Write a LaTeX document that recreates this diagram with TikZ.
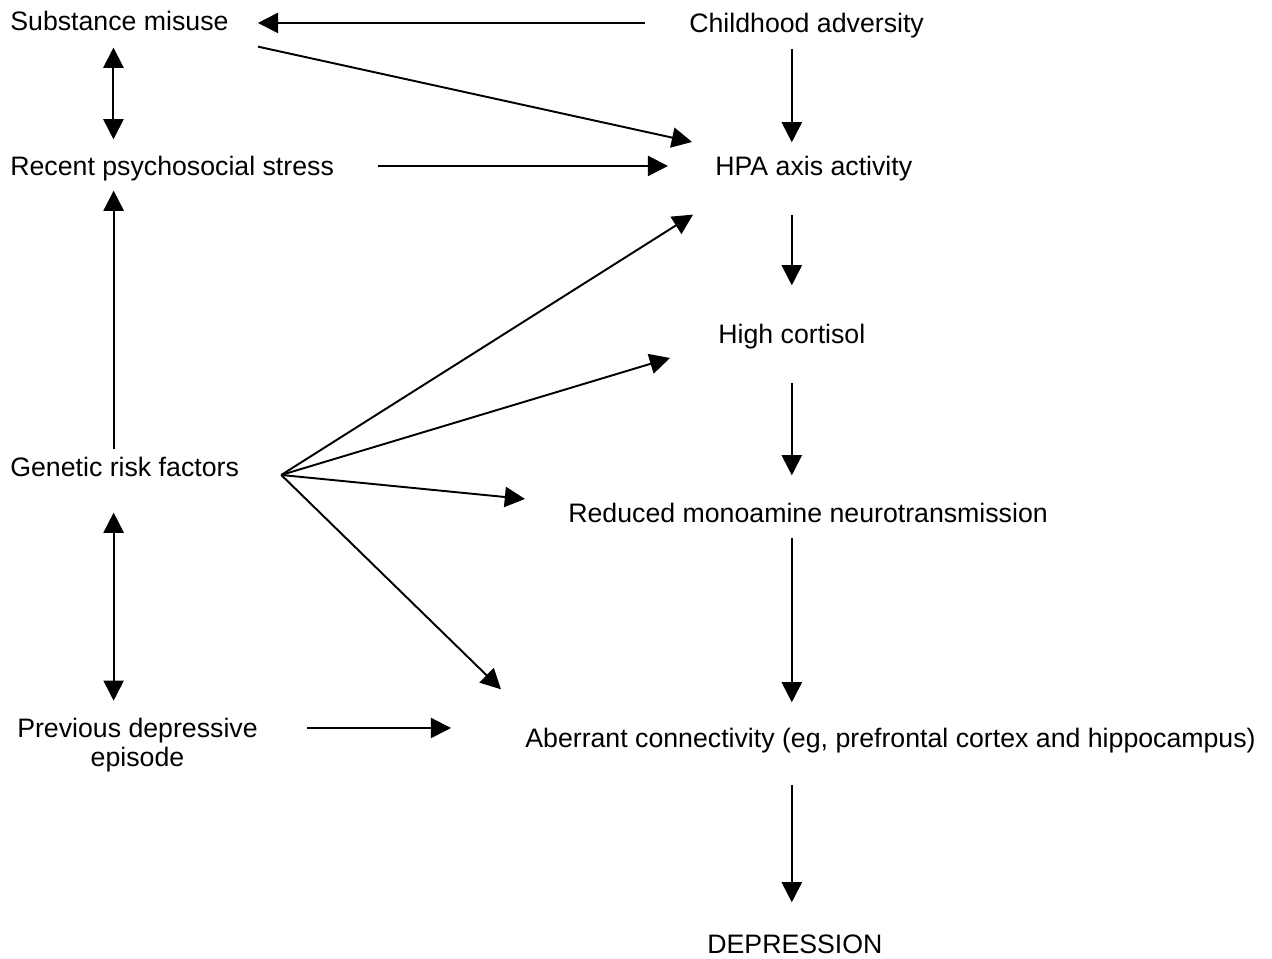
\documentclass[tikz,border=0pt]{standalone}
\usepackage{fontspec}
\setmainfont{Liberation Sans}
\usetikzlibrary{arrows.meta}

\begin{document}
\begin{tikzpicture}[
			x=0.02cm, y=-0.02cm,
			every node/.style={
				inner sep=0pt,
				font=\fontsize{15.2}{16.5}\selectfont
			},
			txt/.style={anchor=base west, text height=11pt, text depth=3pt},
			arr/.style={-{Triangle[length=11.5pt,width=11.5pt]}, line width=1.1pt},
			dblarr/.style={{Triangle[length=11.5pt,width=11.5pt]}-{Triangle[length=11.5pt,width=11.5pt]}, line width=1.1pt}
			]
			\useasboundingbox (0,0) rectangle (1272,959);
			
			\node[txt] (subst) at (10,31) {Substance misuse};
			\node[txt] (child) at (689,33) {Childhood adversity};
			\node[txt] (stress) at (10,176) {Recent psychosocial stress};
			\node[txt] (hpa) at (715,176) {HPA axis activity};
			\node[txt] (cort) at (718,344) {High cortisol};
			\node[txt] (gen) at (10,477) {Genetic risk factors};
			\node[txt] (red) at (568,523) {Reduced monoamine neurotransmission};
			\node[align=center] (prev) at (137.5,745) {Previous depressive\\episode};
			\node[txt] (aber) at (525,747) {Aberrant connectivity (eg, prefrontal cortex and hippocampus)};
			\node[txt] (dep) at (707,953) {DEPRESSION};
			
			\draw[arr] ([shift={(-44,-3)}]child.west) -- ([shift={(29,-1)}]subst.east);
			\draw[arr] ([shift={(29,10)}]subst.south east) -- ([shift={(-23,-27)}]hpa.west);
			\draw[arr] ([shift={(0,10)}]child.south -| cort) -- ([shift={(0,-14)}]hpa.north -| cort);
			\draw[dblarr] ([shift={(-6,11)}]subst.south) -- ([shift={(-6,-17)}]stress.north -| subst.south);
			\draw[arr] ([shift={(44,-3)}]stress.east) -- ([shift={(-47,-3)}]hpa.west);
			\draw[arr] ([shift={(0,33)}]hpa.south -| cort) -- ([shift={(0,-39)}]cort.north);
			\draw[arr] ([shift={(-11,-8)}]gen.north) -- ([shift={(-11,9)}]stress.south -| gen.north);
			
			\draw[arr] ([shift={(42,5)}]gen.east) -- ([shift={(-22,33)}]hpa.south west);
			\draw[arr] ([shift={(42,5)}]gen.east) -- ([shift={(-48,21)}]cort.west);
			\draw[arr] ([shift={(42,5)}]gen.east) -- ([shift={(-43,-17)}]red.west);
			\draw[arr] ([shift={(42,5)}]gen.east) -- ([shift={(-24,-38)}]aber.north west);
			
			\draw[arr] ([shift={(0,33)}]cort.south) -- ([shift={(0,-28)}]red.north -| cort);
			\draw[dblarr] ([shift={(-11,30)}]gen.south) -- ([shift={(-11,-17)}]prev.north -| gen.south);
			\draw[arr] ([shift={(49,-17)}]prev.east) -- ([shift={(-74,-12)}]aber.west);
			\draw[arr] ([shift={(0,9)}]red.south -| cort) -- ([shift={(0,-25)}]aber.north -| cort);
			\draw[arr] ([shift={(0,32)}]aber.south -| cort) -- ([shift={(0,-31)}]dep.north -| cort);
			
		\end{tikzpicture}
\end{document}
